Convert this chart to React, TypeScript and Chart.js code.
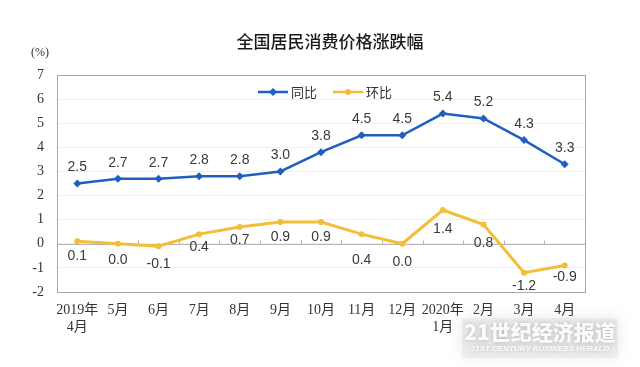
import React, { useEffect, useRef } from "react";
import { Chart, registerables } from "chart.js";

Chart.register(...registerables);

const chartTitle = "全国居民消费价格涨跌幅";
const unitLabel = "(%)";
const categories: (string | string[])[] = [
  ["2019年", "4月"], "5月", "6月", "7月", "8月", "9月", "10月", "11月", "12月",
  ["2020年", "1月"], "2月", "3月", "4月",
];
const yoyLabel = "同比";
const momLabel = "环比";
const yoyValues = [2.5, 2.7, 2.7, 2.8, 2.8, 3.0, 3.8, 4.5, 4.5, 5.4, 5.2, 4.3, 3.3];
const momValues = [0.1, 0.0, -0.1, 0.4, 0.7, 0.9, 0.9, 0.4, 0.0, 1.4, 0.8, -1.2, -0.9];
const yMin = -2;
const yMax = 7;
const yStep = 1;
const watermarkMain = "21世纪经济报道";
const watermarkSub = "21ST CENTURY BUSINESS HERALD";

// label placement offsets (px below the point) for the 环比 series labels
const momLabelGap = [15, 16, 18, 13, 13, 15, 15, 26, 18, 19, 19, 13, 12];

const BLUE = "#1f5fbf";
const YELLOW = "#f3bf38";

const decorPlugin = {
  id: "decor",
  beforeDatasetsDraw(chart: any) {
    const { ctx, chartArea, scales } = chart;
    const x = scales.x;
    const y = scales.y;
    ctx.save();
    const y0 = Math.round(y.getPixelForValue(0)) + 0.5;
    ctx.strokeStyle = "#b5b5b5";
    ctx.lineWidth = 1;
    ctx.beginPath();
    ctx.moveTo(chartArea.left, y0);
    ctx.lineTo(chartArea.right, y0);
    const n = categories.length;
    for (let i = 1; i < n; i++) {
      const bx = Math.round((x.getPixelForValue(i - 1) + x.getPixelForValue(i)) / 2) + 0.5;
      ctx.moveTo(bx, y0);
      ctx.lineTo(bx, y0 - 4);
    }
    ctx.stroke();
    ctx.strokeStyle = "#a9a9a9";
    ctx.strokeRect(
      Math.round(chartArea.left) + 0.5,
      Math.round(chartArea.top) + 0.5,
      Math.round(chartArea.right - chartArea.left),
      Math.round(chartArea.bottom - chartArea.top)
    );
    ctx.restore();
  },
  afterDatasetsDraw(chart: any) {
    const { ctx } = chart;
    ctx.save();
    ctx.font = "14px 'Liberation Sans', Arial, sans-serif";
    ctx.fillStyle = "#3a3a3a";
    ctx.textAlign = "center";
    ctx.textBaseline = "middle";
    chart.data.datasets.forEach((ds: any, di: number) => {
      const meta = chart.getDatasetMeta(di);
      meta.data.forEach((pt: any, i: number) => {
        const v = ds.data[i] as number;
        const dy = di === 0 ? -16 : momLabelGap[i];
        ctx.fillText(v.toFixed(1), pt.x, pt.y + dy);
      });
    });
    ctx.restore();
  },
  afterDraw(chart: any) {
    const { ctx } = chart;
    ctx.save();
    ctx.fillStyle = "#1a1a1a";
    ctx.font = "500 17px 'Noto Sans CJK SC', sans-serif";
    ctx.textAlign = "center";
    ctx.textBaseline = "middle";
    ctx.fillText(chartTitle, 330, 42);
    ctx.font = "12px 'Liberation Serif', serif";
    ctx.fillStyle = "#333";
    ctx.fillText(unitLabel, 40, 53);
    const ly = 92;
    const items = [
      { label: chart.data.datasets[0].label, color: BLUE, x: 258, style: "diamond" },
      { label: chart.data.datasets[1].label, color: YELLOW, x: 333, style: "dot" },
    ];
    items.forEach((it) => {
      ctx.strokeStyle = it.color;
      ctx.lineWidth = 2.5;
      ctx.beginPath();
      ctx.moveTo(it.x, ly);
      ctx.lineTo(it.x + 30, ly);
      ctx.stroke();
      ctx.fillStyle = it.color;
      const cx = it.x + 15;
      ctx.beginPath();
      if (it.style === "diamond") {
        ctx.moveTo(cx, ly - 4);
        ctx.lineTo(cx + 4, ly);
        ctx.lineTo(cx, ly + 4);
        ctx.lineTo(cx - 4, ly);
        ctx.closePath();
      } else {
        ctx.arc(cx, ly, 3, 0, Math.PI * 2);
      }
      ctx.fill();
      ctx.fillStyle = "#333";
      ctx.font = "13px 'Noto Sans CJK SC', sans-serif";
      ctx.textAlign = "left";
      ctx.fillText(it.label, it.x + 33, ly);
    });
    ctx.save();
    ctx.shadowColor = "rgba(150,150,150,0.4)";
    ctx.shadowBlur = 14;
    ctx.fillStyle = "rgba(228,228,228,0.5)";
    ctx.fillRect(462, 318, 156, 40);
    ctx.restore();
    ctx.save();
    ctx.shadowColor = "rgba(110,110,110,0.45)";
    ctx.shadowBlur = 4;
    ctx.fillStyle = "rgba(255,255,255,0.92)";
    ctx.textAlign = "center";
    ctx.font = "900 21px 'Noto Sans CJK SC', serif";
    ctx.fillText(watermarkMain, 540, 332);
    ctx.font = "italic bold 8px 'Liberation Sans', sans-serif";
    ctx.fillText(watermarkSub, 540, 349);
    ctx.restore();
    ctx.restore();
  },
};

export default function App() {
  const ref = useRef<HTMLCanvasElement | null>(null);
  useEffect(() => {
    document.body.style.margin = "0";
    if (!ref.current) return;
    const chart = new Chart(ref.current, {
      type: "line",
      data: {
        labels: categories,
        datasets: [
          {
            label: yoyLabel,
            data: yoyValues,
            borderColor: BLUE,
            backgroundColor: BLUE,
            borderWidth: 2.5,
            pointStyle: "rectRot",
            pointRadius: 4,
            pointBorderWidth: 0,
            tension: 0,
          },
          {
            label: momLabel,
            data: momValues,
            borderColor: YELLOW,
            backgroundColor: YELLOW,
            borderWidth: 3,
            pointStyle: "circle",
            pointRadius: 3,
            pointBorderWidth: 0,
            tension: 0,
          },
        ],
      },
      options: {
        responsive: false,
        animation: false,
        layout: { padding: { left: 0, right: 55, top: 75, bottom: 0 } },
        plugins: {
          legend: { display: false },
          title: { display: false },
          tooltip: { enabled: false },
        },
        scales: {
          x: {
            type: "category",
            offset: true,
            grid: { display: false, drawTicks: false },
            border: { display: false },
            ticks: {
              padding: 10,
              maxRotation: 0,
              autoSkip: false,
              color: "#333",
              font: { family: "'Liberation Serif', 'Noto Sans CJK SC', serif", size: 14, lineHeight: 1.2 },
            },
            afterFit(scale: any) {
              scale.height = 75;
            },
          },
          y: {
            min: yMin,
            max: yMax,
            grid: { color: "#f1f1f1", drawTicks: false },
            border: { display: false },
            ticks: {
              stepSize: yStep,
              padding: 13,
              color: "#333",
              font: { family: "'Liberation Serif', serif", size: 14 },
            },
            afterFit(scale: any) {
              scale.width = 57;
            },
          },
        },
      },
      plugins: [decorPlugin],
    } as any);
    return () => chart.destroy();
  }, []);
  return (
    <div style={{ position: "absolute", left: 0, top: 0, width: 640, height: 367, background: "#fff" }}>
      <canvas ref={ref} width={640} height={367} style={{ display: "block" }} />
    </div>
  );
}
